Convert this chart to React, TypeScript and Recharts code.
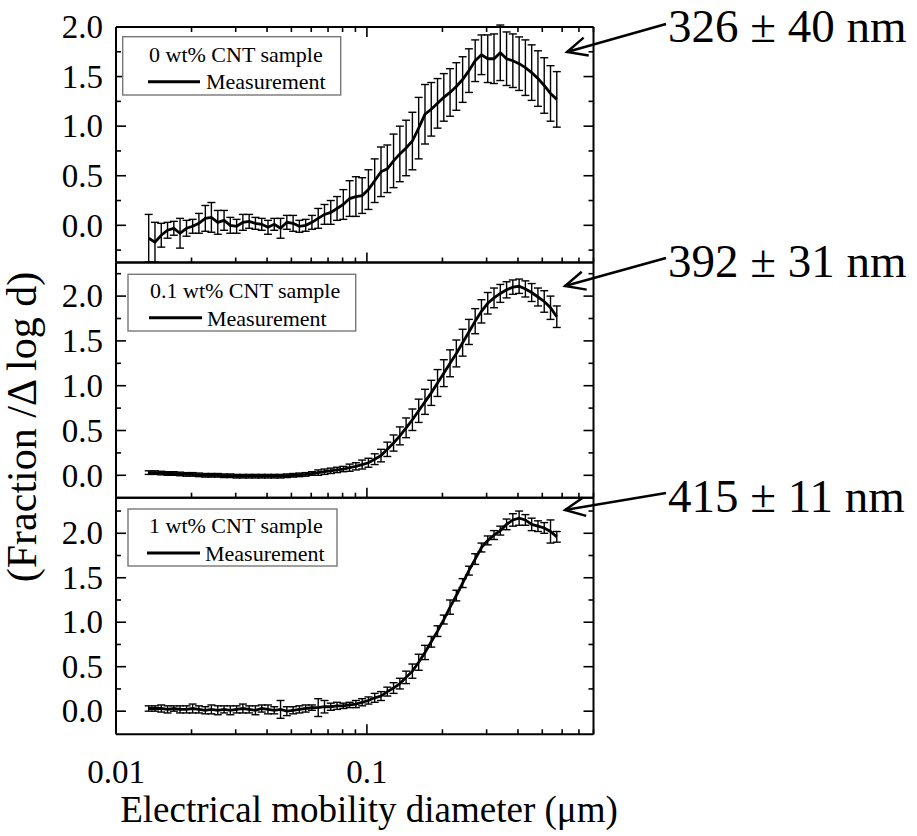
import React from 'react';
import { ComposedChart, Line, ErrorBar, XAxis, YAxis } from 'recharts';

// mobility diameter channels (µm), shared by all three panels
const diameters = [
  0.0135, 0.0143, 0.01515, 0.01605, 0.017, 0.018, 0.0191, 0.0202, 0.0214, 0.0227,
  0.024, 0.02545, 0.02696, 0.02855, 0.03025, 0.03204, 0.03394, 0.03595, 0.03809, 0.04034,
  0.04274, 0.04527, 0.04796, 0.0508, 0.05381, 0.057, 0.06038, 0.06396, 0.06776, 0.07177,
  0.07603, 0.08054, 0.08532, 0.09038, 0.09574, 0.1014, 0.1074, 0.1138, 0.1206, 0.1277,
  0.1353, 0.1433, 0.1518, 0.1608, 0.1704, 0.1805, 0.1912, 0.2025, 0.2145, 0.2272,
  0.2407, 0.255, 0.2701, 0.2861, 0.3031, 0.3211, 0.3401, 0.3603, 0.3816, 0.4043,
  0.4282, 0.4536, 0.4805, 0.509, 0.5392, 0.5712,
];

// 0 wt% CNT sample
const frac0 = [
  -0.13, -0.17, -0.1, -0.05, -0.03, -0.08, -0.03, -0.01, 0.02, 0.07,
  0.08, 0.03, 0.05, 0.0, -0.01, 0.03, 0.04, 0.02, 0.01, -0.02,
  0.01, -0.03, 0.03, 0.02, -0.01, 0.0, 0.03, 0.07, 0.11, 0.13,
  0.17, 0.21, 0.27, 0.29, 0.3, 0.36, 0.45, 0.54, 0.57, 0.65,
  0.72, 0.78, 0.85, 0.98, 1.12, 1.17, 1.23, 1.29, 1.34, 1.4,
  1.47, 1.56, 1.66, 1.72, 1.68, 1.68, 1.74, 1.68, 1.66, 1.63,
  1.59, 1.54, 1.48, 1.41, 1.33, 1.27,
];
const err0 = [
  0.24, 0.2, 0.12, 0.08, 0.07, 0.15, 0.08, 0.07, 0.1, 0.13,
  0.15, 0.12, 0.1, 0.08, 0.07, 0.08, 0.07, 0.06, 0.06, 0.07,
  0.06, 0.1, 0.07, 0.08, 0.06, 0.06, 0.07, 0.1, 0.1, 0.12,
  0.12, 0.15, 0.18, 0.2, 0.18, 0.2, 0.22, 0.25, 0.24, 0.27,
  0.28, 0.28, 0.29, 0.31, 0.3, 0.27, 0.25, 0.24, 0.24, 0.24,
  0.23, 0.22, 0.21, 0.2, 0.24, 0.25, 0.28, 0.27, 0.27, 0.27,
  0.28, 0.28, 0.28, 0.28, 0.28, 0.28,
];

// 0.1 wt% CNT sample
const frac01 = [
  0.03, 0.03, 0.025, 0.02, 0.02, 0.015, 0.01, 0.01, 0.005, 0.0,
  0.0, 0.0, -0.005, -0.005, -0.01, -0.01, -0.01, -0.01, -0.01, -0.01,
  -0.01, -0.01, -0.005, 0.0, 0.005, 0.01, 0.02, 0.03, 0.04, 0.05,
  0.06, 0.07, 0.085, 0.1, 0.12, 0.14, 0.18, 0.22, 0.29, 0.36,
  0.44, 0.53, 0.62, 0.72, 0.82, 0.92, 1.03, 1.14, 1.25, 1.36,
  1.48, 1.6, 1.72, 1.83, 1.92, 1.98, 2.03, 2.07, 2.1, 2.11,
  2.08, 2.04, 1.99, 1.94, 1.87, 1.77,
];
const err01 = [
  0.02, 0.02, 0.02, 0.02, 0.02, 0.02, 0.02, 0.02, 0.02, 0.02,
  0.02, 0.02, 0.02, 0.02, 0.02, 0.02, 0.02, 0.02, 0.02, 0.02,
  0.02, 0.02, 0.02, 0.02, 0.02, 0.02, 0.02, 0.03, 0.03, 0.03,
  0.03, 0.03, 0.04, 0.04, 0.05, 0.05, 0.06, 0.07, 0.08, 0.09,
  0.1, 0.11, 0.12, 0.13, 0.14, 0.14, 0.15, 0.15, 0.15, 0.15,
  0.15, 0.14, 0.14, 0.13, 0.12, 0.11, 0.1, 0.09, 0.08, 0.08,
  0.09, 0.1, 0.1, 0.12, 0.13, 0.12,
];

// 1 wt% CNT sample
const frac1 = [
  0.03, 0.03, 0.03, 0.02, 0.03, 0.02, 0.02, 0.03, 0.02, 0.01,
  0.02, 0.01, 0.02, 0.01, 0.02, 0.03, 0.02, 0.01, 0.03, 0.02,
  0.01, 0.02, 0.0, 0.01, 0.02, 0.03, 0.04, 0.04, 0.05, 0.05,
  0.06, 0.06, 0.07, 0.08, 0.1, 0.12, 0.15, 0.17, 0.22, 0.26,
  0.31, 0.38, 0.45, 0.55, 0.66, 0.78, 0.9, 1.03, 1.17, 1.3,
  1.44, 1.58, 1.71, 1.84, 1.92, 1.98, 2.03, 2.1, 2.15, 2.17,
  2.15, 2.1, 2.08, 2.06, 2.02, 1.96,
];
const err1 = [
  0.03, 0.03, 0.04, 0.04, 0.03, 0.04, 0.04, 0.05, 0.04, 0.04,
  0.05, 0.05, 0.04, 0.05, 0.04, 0.05, 0.04, 0.05, 0.04, 0.05,
  0.04, 0.1, 0.05, 0.04, 0.04, 0.04, 0.03, 0.1, 0.07, 0.04,
  0.04, 0.03, 0.03, 0.04, 0.04, 0.04, 0.05, 0.05, 0.05, 0.06,
  0.06, 0.07, 0.08, 0.09, 0.08, 0.06, 0.06, 0.05, 0.08, 0.06,
  0.05, 0.05, 0.06, 0.05, 0.05, 0.05, 0.05, 0.06, 0.07, 0.08,
  0.06, 0.07, 0.06, 0.06, 0.13, 0.06,
];

const xTicks = [0.01, 0.02, 0.03, 0.04, 0.05, 0.06, 0.07, 0.08, 0.09, 0.1, 0.2, 0.3, 0.4, 0.5, 0.6, 0.7, 0.8];
const xMajor = [0.01, 0.1];
const yMajor = [0, 0.5, 1, 1.5, 2];
const sampleNames = ['0 wt% CNT sample', '0.1 wt% CNT sample', '1 wt% CNT sample'];
const peakLabels = ['326 ± 40 nm', '392 ± 31 nm', '415 ± 11 nm'];

const W = 917;
const H = 836;
const PLOT_LEFT = 116;
const PLOT_RIGHT = 593.5;
const SERIF = '"Liberation Serif", "Times New Roman", serif';

// layout of each panel (pixel frame + legend box + annotation arrow)
const panels = [
  {
    top: 27, bottom: 262.5, domain: [-0.375, 2.0],
    yTicks: [-0.25, 0, 0.25, 0.5, 0.75, 1, 1.25, 1.5, 1.75, 2],
    values: frac0, errors: err0, topTicks: true, xLabels: false,
    legend: { x: 122.7, y: 36.7, w: 218, h: 58.3, tx: 149, ty: 61.7, lx: 148, lx2: 200, ly: 81.7, mx: 206, my: 89 },
    note: { tx: 668, ty: 42, from: [666, 24], tip: [567, 52] },
  },
  {
    top: 262.5, bottom: 497.7, domain: [-0.25, 2.375],
    yTicks: [0, 0.25, 0.5, 0.75, 1, 1.25, 1.5, 1.75, 2, 2.25],
    values: frac01, errors: err01, topTicks: false, xLabels: false,
    legend: { x: 128, y: 274.3, w: 227.7, h: 56.7, tx: 150, ty: 298, lx: 149, lx2: 202, ly: 317.7, mx: 207, my: 326 },
    note: { tx: 668, ty: 277, from: [666, 258], tip: [565, 286] },
  },
  {
    top: 497.7, bottom: 734.3, domain: [-0.26, 2.4],
    yTicks: [0, 0.25, 0.5, 0.75, 1, 1.25, 1.5, 1.75, 2, 2.25],
    values: frac1, errors: err1, topTicks: false, xLabels: true,
    legend: { x: 128, y: 509, w: 209, h: 57, tx: 149, ty: 533, lx: 147, lx2: 200, ly: 553, mx: 205, my: 561 },
    note: { tx: 668, ty: 512, from: [666, 493], tip: [565, 510] },
  },
];

const frameLine = { stroke: '#000', strokeWidth: 2 };

const leftTick = (props: any) => {
  const { x, y, payload } = props;
  const major = yMajor.includes(payload.value);
  return (
    <g>
      <line x1={x} y1={y} x2={x + (major ? 10 : 5)} y2={y} stroke="#000" strokeWidth={1.6} />
      {major && (
        <text x={x - 13} y={y} dy="0.34em" textAnchor="end" fontSize={33} fontFamily={SERIF} fill="#000">
          {payload.value.toFixed(1)}
        </text>
      )}
    </g>
  );
};

const rightTick = (props: any) => {
  const { x, y, payload } = props;
  const major = yMajor.includes(payload.value);
  return <line x1={x} y1={y} x2={x - (major ? 10 : 5)} y2={y} stroke="#000" strokeWidth={1.6} />;
};

const bottomTick = (showLabels: boolean) => (props: any) => {
  const { x, y, payload } = props;
  const major = xMajor.includes(payload.value);
  return (
    <g>
      <line x1={x} y1={y} x2={x} y2={y - (major ? 10 : 5)} stroke="#000" strokeWidth={1.6} />
      {showLabels && major && (
        <text x={x} y={y + 49} textAnchor="middle" fontSize={33} fontFamily={SERIF} fill="#000">
          {String(payload.value)}
        </text>
      )}
    </g>
  );
};

const topTick = (props: any) => {
  const { x, y, payload } = props;
  const major = xMajor.includes(payload.value);
  return <line x1={x} y1={y} x2={x} y2={y + (major ? 10 : 5)} stroke="#000" strokeWidth={1.6} />;
};

// axes need a non-zero box to be drawn, so each one gets 1px of room
function Panel({ p }: { p: (typeof panels)[number] }) {
  const data = diameters.map((d, i) => ({ d, v: p.values[i], e: p.errors[i] }));
  return (
    <div style={{ position: 'absolute', left: 0, top: 0 }}>
      <ComposedChart
        width={W}
        height={H}
        data={data}
        margin={{ top: p.top - 1, bottom: H - p.bottom - 1, left: PLOT_LEFT - 1, right: W - PLOT_RIGHT - 1 }}
      >
        <XAxis
          xAxisId="b"
          dataKey="d"
          type="number"
          scale="log"
          domain={[0.01, 0.8]}
          allowDataOverflow
          ticks={xTicks}
          interval={0}
          height={1}
          tickSize={0}
          tickMargin={0}
          tickLine={false}
          axisLine={frameLine}
          tick={bottomTick(p.xLabels)}
        />
        <XAxis
          xAxisId="t"
          orientation="top"
          dataKey="d"
          type="number"
          scale="log"
          domain={[0.01, 0.8]}
          allowDataOverflow
          ticks={p.topTicks ? xTicks : [0.01]}
          interval={0}
          height={1}
          tickSize={0}
          tickMargin={0}
          tickLine={false}
          axisLine={frameLine}
          tick={p.topTicks ? topTick : false}
        />
        <YAxis
          yAxisId="l"
          type="number"
          domain={p.domain}
          allowDataOverflow
          ticks={p.yTicks}
          interval={0}
          width={1}
          tickSize={0}
          tickMargin={0}
          tickLine={false}
          axisLine={frameLine}
          tick={leftTick}
        />
        <YAxis
          yAxisId="r"
          orientation="right"
          type="number"
          domain={p.domain}
          allowDataOverflow
          ticks={p.yTicks}
          interval={0}
          width={1}
          tickSize={0}
          tickMargin={0}
          tickLine={false}
          axisLine={frameLine}
          tick={rightTick}
        />
        <Line
          xAxisId="b"
          yAxisId="l"
          dataKey="v"
          type="linear"
          stroke="#000"
          strokeWidth={2.8}
          dot={false}
          isAnimationActive={false}
        >
          <ErrorBar dataKey="e" width={4} stroke="#000" strokeWidth={1.4} direction="y" isAnimationActive={false} />
        </Line>
      </ComposedChart>
    </div>
  );
}

function Arrow({ from, tip }: { from: number[]; tip: number[] }) {
  const dx = from[0] - tip[0];
  const dy = from[1] - tip[1];
  const len = Math.hypot(dx, dy);
  const ux = dx / len;
  const uy = dy / len;
  const a = (25 * Math.PI) / 180;
  const L = 22;
  const ax = ux * Math.cos(a) - uy * Math.sin(a);
  const ay = ux * Math.sin(a) + uy * Math.cos(a);
  const bx = ux * Math.cos(a) + uy * Math.sin(a);
  const by = -ux * Math.sin(a) + uy * Math.cos(a);
  return (
    <g stroke="#000" strokeWidth={2.4} fill="none">
      <line x1={from[0]} y1={from[1]} x2={tip[0]} y2={tip[1]} />
      <polyline points={`${tip[0] + ax * L},${tip[1] + ay * L} ${tip[0]},${tip[1]} ${tip[0] + bx * L},${tip[1] + by * L}`} />
    </g>
  );
}

export default function App() {
  return (
    <div style={{ position: 'absolute', left: 0, top: 0, width: W, height: H, background: '#fff' }}>
      {panels.map((p, i) => (
        <Panel key={i} p={p} />
      ))}
      <svg width={W} height={H} style={{ position: 'absolute', left: 0, top: 0 }} fontFamily={SERIF}>
        {panels.map((p, i) => (
          <g key={i}>
            <rect x={p.legend.x} y={p.legend.y} width={p.legend.w} height={p.legend.h} fill="#fff" stroke="#777" strokeWidth={1.4} />
            <text x={p.legend.tx} y={p.legend.ty} fontSize={22} fill="#000">{sampleNames[i]}</text>
            <line x1={p.legend.lx} y1={p.legend.ly} x2={p.legend.lx2} y2={p.legend.ly} stroke="#000" strokeWidth={3} />
            <text x={p.legend.mx} y={p.legend.my} fontSize={22} fill="#000">Measurement</text>
            <text x={p.note.tx} y={p.note.ty} fontSize={47} fill="#000">{peakLabels[i]}</text>
            <Arrow from={p.note.from} tip={p.note.tip} />
          </g>
        ))}
        <text transform="translate(36, 427) rotate(-90)" textAnchor="middle" fontSize={42} fill="#000">
          (Fraction /Δ log d)
        </text>
        <text x={369} y={822} textAnchor="middle" fontSize={37} fill="#000">
          Electrical mobility diameter (μm)
        </text>
      </svg>
    </div>
  );
}
